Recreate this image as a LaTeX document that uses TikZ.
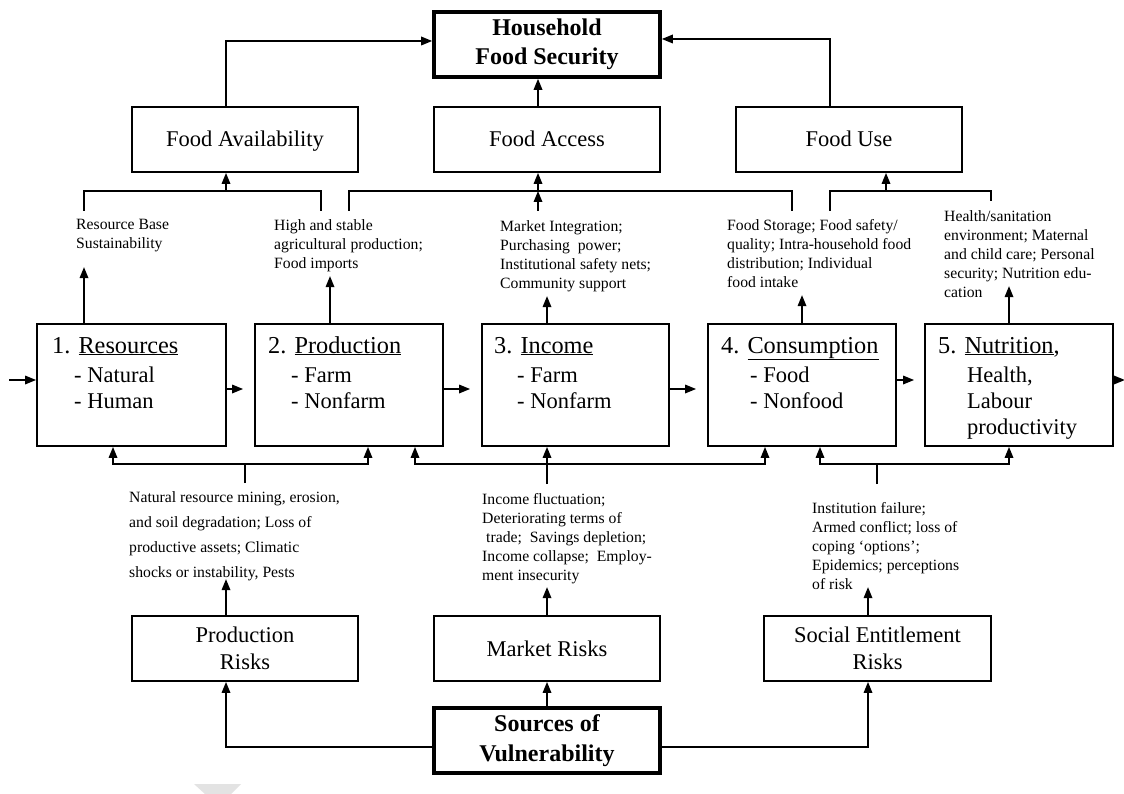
\documentclass[tikz,border=0pt]{standalone}
\usepackage{fontspec}
\setmainfont{Liberation Serif}
\usetikzlibrary{arrows.meta,calc}
\tikzset{
  bx/.style={draw, rectangle, line width=1.8pt, inner sep=0pt, align=center,
    minimum width=226pt, minimum height=65pt, font=\fontsize{22.5}{27}\selectfont},
  oneline/.style={text height=15.4pt, text depth=0.4pt},
  boldbox/.style={bx, line width=3.6pt, font=\fontsize{24}{29.5}\selectfont\bfseries},
  rowbox/.style={draw, rectangle, line width=1.8pt, minimum width=188pt, minimum height=122pt, inner sep=0pt},
  ln/.style={line width=1.7pt},
  arr/.style={ln, -{Triangle[length=11pt,width=8.5pt]}},
  small/.style={align=left, inner sep=0pt, anchor=north west, font=\fontsize{15.7}{19}\selectfont},
  ttl/.style={anchor=base west, inner sep=0pt, font=\fontsize{24.3}{28}\selectfont},
  itm/.style={anchor=base west, inner sep=0pt, font=\fontsize{22.5}{27}\selectfont},
}
\begin{document}
\begin{tikzpicture}[x=1pt,y=-1pt]
\useasboundingbox (0,0) rectangle (1124,794);
\fill[white] (0,0) rectangle (1124,794);

% top level
\node[boldbox] (hfs) at (547,44.5) {Household\\Food Security};
\node[bx, oneline] (fav) at (245,139.5) {Food Availability};
\node[bx, oneline] (fac) at (547,139.5) {Food Access};
\node[bx, oneline] (fus) at (849,139.5) {Food Use};

\draw[arr] ([xshift=-19pt]fav.north) |- ([yshift=3.5pt]hfs.west);
\draw[arr] ([xshift=-9pt]fac.north) -- ([xshift=-9pt]hfs.south);
\draw[arr] ([xshift=-19pt]fus.north) |- ([yshift=5.5pt]hfs.east);

% brackets below the pillars
\coordinate (bFAl) at (84,211);
\coordinate (bFAr) at (321,211);
\coordinate (mFA) at (226,191);
\draw[ln] (bFAl) |- (mFA) -| (bFAr);
\draw[arr] (mFA) -- (mFA |- fav.south);

\coordinate (bFCl) at (349,211);
\coordinate (bFCr) at (792,211);
\coordinate (mFC) at (538,191);
\coordinate (sFC) at (538,211);
\draw[ln] (bFCl) |- (mFC) -| (bFCr);
\draw[arr] (mFC) -- (mFC |- fac.south);
\draw[arr] (sFC) -- (mFC);

\coordinate (bFUl) at (830,211);
\coordinate (bFUr) at (991,201);
\coordinate (mFU) at (886,191);
\draw[ln] (bFUl) |- (mFU) -| (bFUr);
\draw[arr] (mFU) -- (mFU |- fus.south);

% upper small texts
\node[small] (tRes) at (76,219.5) {Resource Base\\Sustainability};
\node[small] (tPro) at (274,219.5) {High and stable\\agricultural production;\\Food imports};
\node[small] (tInc) at (500,220.5) {Market Integration;\\Purchasing\ \ power;\\Institutional safety nets;\\Community support};
\node[small] (tCon) at (727,219.5) {Food Storage; Food safety/\\quality; Intra-household food\\distribution; Individual\\food intake};
\node[small] (tNut) at (944,210.5) {Health/sanitation\\environment; Maternal\\and child care; Personal\\security; Nutrition edu-\\cation};

% main row
\node[rowbox, minimum width=189pt] (res) at (131.5,385) {};
\node[rowbox] (pro) at (349,385) {};
\node[rowbox, minimum width=187pt] (inc) at (575.5,385) {};
\node[rowbox] (con) at (802,385) {};
\node[rowbox] (nut) at (1019,385) {};

\node[ttl] (resT) at (52,353) {1. \underline{Resources}};
\node[itm] (resA) at (74,382) {- Natural};
\node[itm] (resB) at (74,408) {- Human};
\node[ttl] (proT) at (268,353) {2. \underline{Production}};
\node[itm] (proA) at (291,382) {- Farm};
\node[itm] (proB) at (291,408) {- Nonfarm};
\node[ttl] (incT) at (494,353) {3. \underline{Income}};
\node[itm] (incA) at (517,382) {- Farm};
\node[itm] (incB) at (517,408) {- Nonfarm};
\node[ttl] (conT) at (721,353) {4. \underline{Consumption}};
\node[itm] (conA) at (750,382) {- Food};
\node[itm] (conB) at (750,408) {- Nonfood};
\node[ttl] (nutT) at (938,353) {5. \underline{Nutrition},};
\node[itm] (nutA) at (967,382) {Health,};
\node[itm] (nutB) at (967,408) {Labour};
\node[itm] (nutC) at (967,434) {productivity};

% arrows up from row to texts
\draw[arr] ([xshift=-47.5pt]res.north) -- ++(0,-56);
\draw[arr] ([xshift=-19pt]pro.north) -- ++(0,-47);
\draw[arr] ([xshift=-28.5pt]inc.north) -- ++(0,-27);
\draw[arr] (con.north) -- ++(0,-28);
\draw[arr] ([xshift=-10pt]nut.north) -- ++(0,-37);

% horizontal flow
\coordinate (in) at (9,380);
\draw[arr] (in) -- (in -| res.west);
\draw[arr, shorten >=11pt] ([yshift=-4pt]res.east) -- ([yshift=-4pt]pro.west);
\draw[arr, shorten >=11pt] ([yshift=-4pt]pro.east) -- ([yshift=-4pt]inc.west);
\draw[arr, shorten >=11pt] ([yshift=-4pt]inc.east) -- ([yshift=-4pt]con.west);
\draw[arr, shorten >=10pt] ([yshift=5pt]con.east) -- ([yshift=5pt]nut.west);
\draw[arr] ([yshift=5pt]nut.east) -- ++(11,0);

% lower brackets
\coordinate (sPR) at (245,483);
\coordinate (jPR) at (245,464);
\draw[ln] (sPR) -- (jPR);
\draw[arr] (jPR) -| ([xshift=-18.5pt]res.south);
\draw[arr] (jPR) -| ([xshift=19pt]pro.south);

\coordinate (sMR) at (547,484);
\coordinate (jMR) at (547,464);
\draw[arr] (jMR) -| ([xshift=66pt]pro.south);
\draw[arr] (jMR) -| ([xshift=-37pt]con.south);
\draw[arr] (sMR) -- (sMR |- inc.south);

\coordinate (sSE) at (877,484);
\coordinate (jSE) at (877,464);
\draw[ln] (sSE) -- (jSE);
\draw[arr] (jSE) -| ([xshift=18pt]con.south);
\draw[arr] (jSE) -| ([xshift=-10pt]nut.south);

% lower texts
\node[small, font=\fontsize{15.7}{25}\selectfont] (tPR) at (129,491) {Natural resource mining, erosion,\\and soil degradation; Loss of\\productive assets; Climatic\\shocks or instability, Pests};
\node[small] (tMR) at (482,493.5) {Income fluctuation;\\Deteriorating terms of\\\hspace*{4pt}trade;\ \ Savings depletion;\\Income collapse;\ \ Employ-\\ment insecurity};
\node[small] (tSE) at (812,502.5) {Institution failure;\\Armed conflict; loss of\\coping ‘options’;\\Epidemics; perceptions\\of risk};

% risk boxes
\node[bx] (pr) at (245,648.5) {Production\\Risks};
\node[bx, oneline] (mr) at (547,648.5) {Market Risks};
\node[bx, minimum width=227pt] (ser) at (877.5,648.5) {Social Entitlement\\Risks};
\node[boldbox] (src) at (547,740.5) {Sources of\\Vulnerability};

\draw[arr] ([xshift=-19pt]pr.north) -- ++(0,-36);
\draw[arr] (mr.north) -- ++(0,-28);
\draw[arr] ([xshift=-9.5pt]ser.north) -- ++(0,-28);
\draw[arr] (src.north) -- (mr.south);
\draw[arr] ([yshift=-6.5pt]src.west) -| ([xshift=-19pt]pr.south);
\draw[arr] ([yshift=-6.5pt]src.east) -| ([xshift=-9.5pt]ser.south);

% faint mark at the bottom
\fill[gray!22] (194,784) -- (241,784) -- (231,794) -- (205,794) -- cycle;
\end{tikzpicture}
\end{document}
